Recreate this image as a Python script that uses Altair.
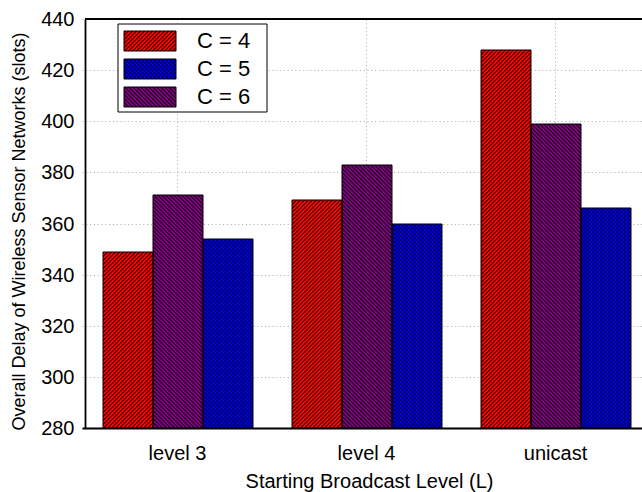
import base64
import math

import altair as alt
import pandas as pd

# ---- data -------------------------------------------------------------
levels = ["level 3", "level 4", "unicast"]
series = ["C = 4", "C = 5", "C = 6"]
delay_c4 = [349, 369, 428]
delay_c5 = [354, 360, 366]
delay_c6 = [371, 383, 399]

# ---- styling ----------------------------------------------------------
FONT = "Liberation Sans"
series_colors = ["#ff0000", "#0000ff", "#800080"]
series_hatch = [["/"], ["/", "\\"], ["\\"]]   # hatch directions per series
series_ink = [0.33, 0.22, 0.33]                # share of black in each stripe
bar_order = ["C = 4", "C = 6", "C = 5"]        # left-to-right inside a group

PLOT_W, PLOT_H = 557, 409
X_RANGE = [-3, 565.5]     # band range; the frame is cut at PLOT_W
Y_MIN, Y_MAX = 280, 440
PAD_IN, PAD_OUT = 0.2, 0.1
HATCH_PERIOD = 2 * math.sqrt(2)   # repeats every 4 px horizontally and vertically

rows = []
for name, vals in zip(series, [delay_c4, delay_c5, delay_c6]):
    for lv, v in zip(levels, vals):
        rows.append({"level": lv, "series": name, "delay": v})
df = pd.DataFrame(rows)

# pixel sizes of the (rounded) band scales, used to size the hatch tiles
group_step = math.floor((X_RANGE[1] - X_RANGE[0]) / (len(levels) - PAD_IN + 2 * PAD_OUT))
group_band = math.floor(group_step * (1 - PAD_IN) + 0.5)
bar_w = math.floor(group_band / len(series))


def bar_height(v):
    y_top = math.floor(PLOT_H - (v - Y_MIN) / (Y_MAX - Y_MIN) * PLOT_H + 0.5)
    return PLOT_H - y_top


def hatch_image(w, h, color, dirs, frac, period=HATCH_PERIOD):
    """w x h SVG: a colour field with 45-degree black hatching on top."""
    svg = [f'<svg xmlns="http://www.w3.org/2000/svg" width="{w}" height="{h}" '
           f'viewBox="0 0 {w} {h}"><defs>']
    for k, d in enumerate(dirs):
        ang = 45 if d == "/" else -45
        svg.append(f'<pattern id="p{k}" patternUnits="userSpaceOnUse" '
                   f'width="{period:.6f}" height="{period:.6f}" '
                   f'patternTransform="rotate({ang})">'
                   f'<rect width="{frac * period:.6f}" height="{period:.6f}" fill="#000"/>'
                   f'</pattern>')
    svg.append(f'</defs><rect width="{w}" height="{h}" fill="{color}"/>')
    for k in range(len(dirs)):
        svg.append(f'<rect width="{w}" height="{h}" fill="url(#p{k})"/>')
    svg.append('</svg>')
    return "data:image/svg+xml;base64," + base64.b64encode("".join(svg).encode()).decode()


grid_style = dict(grid=True, gridColor="#a8a8a8", gridDash=[1, 2.8], gridWidth=1)

x_enc = alt.X(
    "level:N",
    sort=levels,
    title="Starting Broadcast Level (L)",
    scale=alt.Scale(domain=levels, range=X_RANGE, round=True,
                    paddingInner=PAD_IN, paddingOuter=PAD_OUT),
    axis=alt.Axis(labelAngle=0, labelFontSize=20, labelColor="black",
                  labelPadding=25, labelBaseline="middle", ticks=False, tickSize=0,
                  domainColor="black", domainWidth=1.8,
                  titleFontSize=20, titleFontWeight="normal", titleColor="black",
                  titleX=284, titleY=53, titleAlign="center",
                  titleBaseline="middle", **grid_style),
)
xo_enc = alt.XOffset("series:N", sort=bar_order,
                     scale=alt.Scale(domain=bar_order, round=True,
                                     paddingInner=0, paddingOuter=0))
y_enc = alt.Y(
    "delay:Q",
    title="Overall Delay of Wireless Sensor Networks (slots)",
    scale=alt.Scale(domain=[Y_MIN, Y_MAX], nice=False, zero=False, round=True),
    axis=alt.Axis(values=list(range(Y_MIN, Y_MAX + 1, 20)), labelFontSize=20,
                  labelColor="black", labelPadding=11, ticks=False, tickSize=0,
                  domainColor="black", domainWidth=1.8,
                  titleFontSize=18, titleFontWeight="normal", titleColor="black",
                  titleAngle=270, titleX=-66, titleY=212, titleAlign="center",
                  titleBaseline="middle", **grid_style),
)
y2_enc = alt.Y2Datum(Y_MIN)
pos_enc = dict(x=x_enc, xOffset=xo_enc, y=y_enc, y2=y2_enc)

# solid bars
bars = alt.Chart(df).mark_bar().encode(
    color=alt.Color("series:N", scale=alt.Scale(domain=series, range=series_colors),
                    legend=None),
    **pos_enc,
)

layers = [bars]

# hatched fill, one tile image per bar
for name, vals, col, dirs, frac in zip(series, [delay_c4, delay_c5, delay_c6],
                                       series_colors, series_hatch, series_ink):
    for lv, v in zip(levels, vals):
        layers.append(
            alt.Chart(df)
            .transform_filter((alt.datum.level == lv) & (alt.datum.series == name))
            .mark_image(aspect=False)
            .encode(url=alt.value(hatch_image(bar_w, bar_height(v), col, dirs, frac)),
                    **pos_enc)
        )

# bar outlines
layers.append(
    alt.Chart(df).mark_bar(filled=False, color="black", strokeWidth=1).encode(**pos_enc)
)

# legend
legend_df = pd.DataFrame({"series": series, "color": series_colors})
BOX = (33, 5, 182, 93)
SW_X, SW_W, SW_H = 39, 52, 20
SW_TOP, SW_GAP = 12, 28
TEXT_X = 112

layers.append(
    alt.Chart(legend_df).transform_filter(alt.datum.series == series[0])
    .mark_rect(fill="white", stroke="black", strokeWidth=1)
    .encode(x=alt.value(BOX[0]), x2=alt.value(BOX[2]),
            y=alt.value(BOX[1]), y2=alt.value(BOX[3]))
)
for i, (name, col, dirs, frac) in enumerate(zip(series, series_colors,
                                                series_hatch, series_ink)):
    top = SW_TOP + SW_GAP * i
    one = alt.Chart(legend_df).transform_filter(alt.datum.series == name)
    pos = dict(x=alt.value(SW_X), x2=alt.value(SW_X + SW_W),
               y=alt.value(top), y2=alt.value(top + SW_H))
    layers.append(one.mark_image(aspect=False).encode(
        url=alt.value(hatch_image(SW_W, SW_H, col, dirs, frac)), **pos))
    layers.append(one.mark_rect(filled=False, color="black", strokeWidth=1).encode(**pos))
    layers.append(
        one.mark_text(align="left", baseline="middle", fontSize=22, font=FONT,
                      color="black")
        .encode(x=alt.value(TEXT_X), y=alt.value(top + SW_H / 2), text="series:N")
    )

# top edge of the frame
layers.append(
    alt.Chart(legend_df).transform_filter(alt.datum.series == series[0])
    .mark_rule(color="black", strokeWidth=2)
    .encode(x=alt.value(0), x2=alt.value(PLOT_W), y=alt.value(0))
)

chart = (
    alt.layer(*layers)
    .properties(width=PLOT_W, height=PLOT_H,
                autosize=alt.AutoSizeParams(type="none"),
                padding={"left": 85, "top": 19, "right": 0, "bottom": 64})
    .configure(font=FONT)
    .configure_view(stroke=None)
)

chart.save("out.html", embed_options={"renderer": "svg", "actions": False})
